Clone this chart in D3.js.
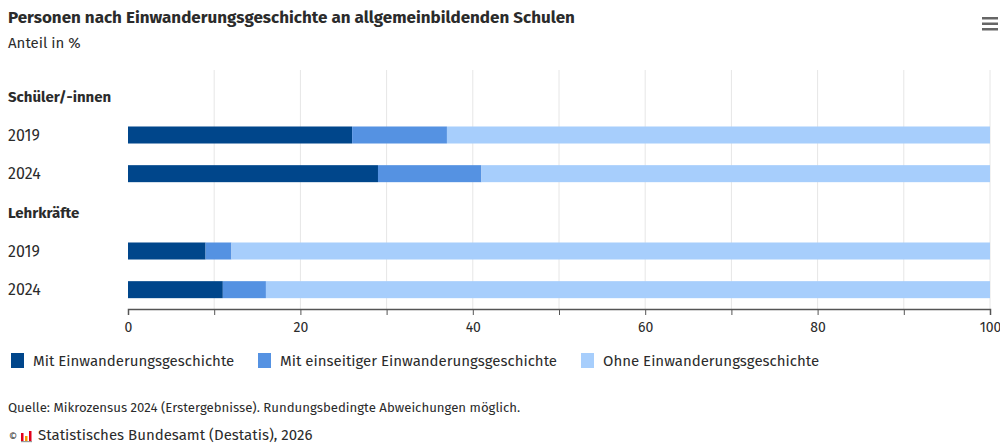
<!DOCTYPE html>
<html>
<head>
<meta charset="utf-8">
<script src="https://cdn.jsdelivr.net/npm/d3@7"></script>
<style>
  body { margin: 0; background: #fff; }
  #chart { width: 1000px; height: 445px; }
  text { font-family: "Fira Sans", Roboto, "Noto Sans", sans-serif; fill: #2b2b2b; }
</style>
</head>
<body>
<div id="chart"></div>
<script>
'use strict'

// rows of the chart, header rows carry no values
const rows = ['Schüler/-innen', 'S2019', 'S2024', 'Lehrkräfte', 'L2019', 'L2024']
const rowLabels = ['Schüler/-innen', '2019', '2024', 'Lehrkräfte', '2019', '2024']
const headerRows = ['Schüler/-innen', 'Lehrkräfte']

const barRows = ['S2019', 'S2024', 'L2019', 'L2024']
const mitEinwanderung = [26, 29, 9, 11]
const einseitig = [11, 12, 3, 5]
const ohneEinwanderung = [63, 59, 88, 84]

const seriesNames = ['Mit Einwanderungsgeschichte', 'Mit einseitiger Einwanderungsgeschichte', 'Ohne Einwanderungsgeschichte']
const colors = ['#00468b', '#5592e2', '#a7cefc']
const xTicks = [0, 10, 20, 30, 40, 50, 60, 70, 80, 90, 100]
const xLabels = [0, 20, 40, 60, 80, 100]

////////////////////////////////////
//////////// svg setup /////////////
////////////////////////////////////

const svgWidth = 1000
const svgHeight = 445

const svg = d3.select('#chart').append('svg')
    .attr('width', svgWidth)
    .attr('height', svgHeight)

const margin = { left: 128, right: 10, top: 77, bottom: 136 }

////////////////////////////////////
//////////////scales////////////////
////////////////////////////////////

const xScale = d3.scaleLinear()
    .domain([0, 100])
    .range([margin.left, svgWidth - margin.right])

const yScale = d3.scaleBand()
    .domain(rows)
    .range([margin.top, svgHeight - margin.bottom])
    .paddingInner(0.56)
    .paddingOuter(0.28)

const table = barRows.map((r, i) => ({
    row: r,
    a: mitEinwanderung[i],
    b: einseitig[i],
    c: ohneEinwanderung[i]
}))
const stack = d3.stack().keys(['a', 'b', 'c'])(table)

////////////////////////////////////
/////////////// DOM ////////////////
////////////////////////////////////

// title
svg.append('text')
    .attr('x', 8).attr('y', 23)
    .style('font-size', '17px').style('font-weight', 'bold')
    .text('Personen nach Einwanderungsgeschichte an allgemeinbildenden Schulen')

svg.append('text')
    .attr('x', 8).attr('y', 48)
    .style('font-size', '15px')
    .text('Anteil in %')

// menu icon
svg.append('g').selectAll('rect')
    .data([0, 1, 2])
    .join('rect')
    .attr('x', 982).attr('y', d => 17 + d * 5.5)
    .attr('width', 16).attr('height', 2.5)
    .attr('fill', '#666')

// grid
const gridTop = 70
const axisY = svgHeight - margin.bottom

svg.append('g')
    .selectAll('line')
    .data(xTicks.slice(1))
    .join('line')
    .attr('x1', d => xScale(d)).attr('x2', d => xScale(d))
    .attr('y1', gridTop).attr('y2', axisY)
    .attr('stroke', '#e6e6e6')
    .attr('stroke-width', 1)

// bars
svg.append('g')
    .selectAll('g')
    .data(stack)
    .join('g')
    .attr('fill', (d, i) => colors[i])
    .selectAll('rect')
    .data(d => d)
    .join('rect')
    .attr('x', d => xScale(d[0]))
    .attr('width', d => xScale(d[1]) - xScale(d[0]))
    .attr('y', d => yScale(d.data.row))
    .attr('height', yScale.bandwidth())

// row labels
svg.append('g')
    .selectAll('text')
    .data(rows)
    .join('text')
    .attr('x', 8)
    .attr('y', d => yScale(d) + yScale.bandwidth() / 2)
    .attr('dy', '0.35em')
    .style('font-size', d => headerRows.includes(d) ? '15px' : '16px')
    .style('font-weight', d => headerRows.includes(d) ? 'bold' : 'normal')
    .text((d, i) => rowLabels[i])

// axis
const xAxis = d3.axisBottom(xScale)
    .tickValues(xTicks)
    .tickSize(6)
    .tickFormat(d => xLabels.includes(d) ? d : '')

const axisG = svg.append('g')
    .attr('transform', `translate(0,${axisY})`)
    .call(xAxis)

axisG.select('.domain').attr('stroke', '#555').attr('stroke-width', 1.5)
axisG.selectAll('.tick line').attr('stroke', '#555')
axisG.selectAll('.tick text')
    .attr('y', 13)
    .style('font-size', '14px')
    .style('font-family', '"Fira Sans", Roboto, "Noto Sans", sans-serif')
    .attr('fill', '#2b2b2b')

// legend
const legendX = [11, 258, 581]
const legend = svg.append('g')
    .selectAll('g')
    .data(seriesNames)
    .join('g')
    .attr('transform', (d, i) => `translate(${legendX[i]},353)`)

legend.append('rect')
    .attr('width', 13).attr('height', 15)
    .attr('fill', (d, i) => colors[i])

legend.append('text')
    .attr('x', 22).attr('y', 7.5).attr('dy', '0.35em')
    .style('font-size', '15px')
    .text(d => d)

// footer
svg.append('text')
    .attr('x', 8).attr('y', 412)
    .style('font-size', '13.2px')
    .text('Quelle: Mikrozensus 2024 (Erstergebnisse). Rundungsbedingte Abweichungen möglich.')

svg.append('text')
    .attr('x', 9).attr('y', 440)
    .style('font-size', '10px')
    .text('©')

// small destatis logo
const logo = svg.append('g').attr('transform', 'translate(21,430)')
logo.append('rect').attr('x', 0).attr('y', 3).attr('width', 2.5).attr('height', 8).attr('fill', '#e2001a')
logo.append('rect').attr('x', 4).attr('y', 6).attr('width', 2.5).attr('height', 5).attr('fill', '#f59c00')
logo.append('rect').attr('x', 8).attr('y', 1).attr('width', 2.5).attr('height', 10).attr('fill', '#e2001a')
logo.append('rect').attr('x', 0).attr('y', 11).attr('width', 11).attr('height', 1.2).attr('fill', '#999')

svg.append('text')
    .attr('x', 38).attr('y', 440)
    .style('font-size', '15px')
    .text('Statistisches Bundesamt (Destatis), 2026')
</script>
</body>
</html>
